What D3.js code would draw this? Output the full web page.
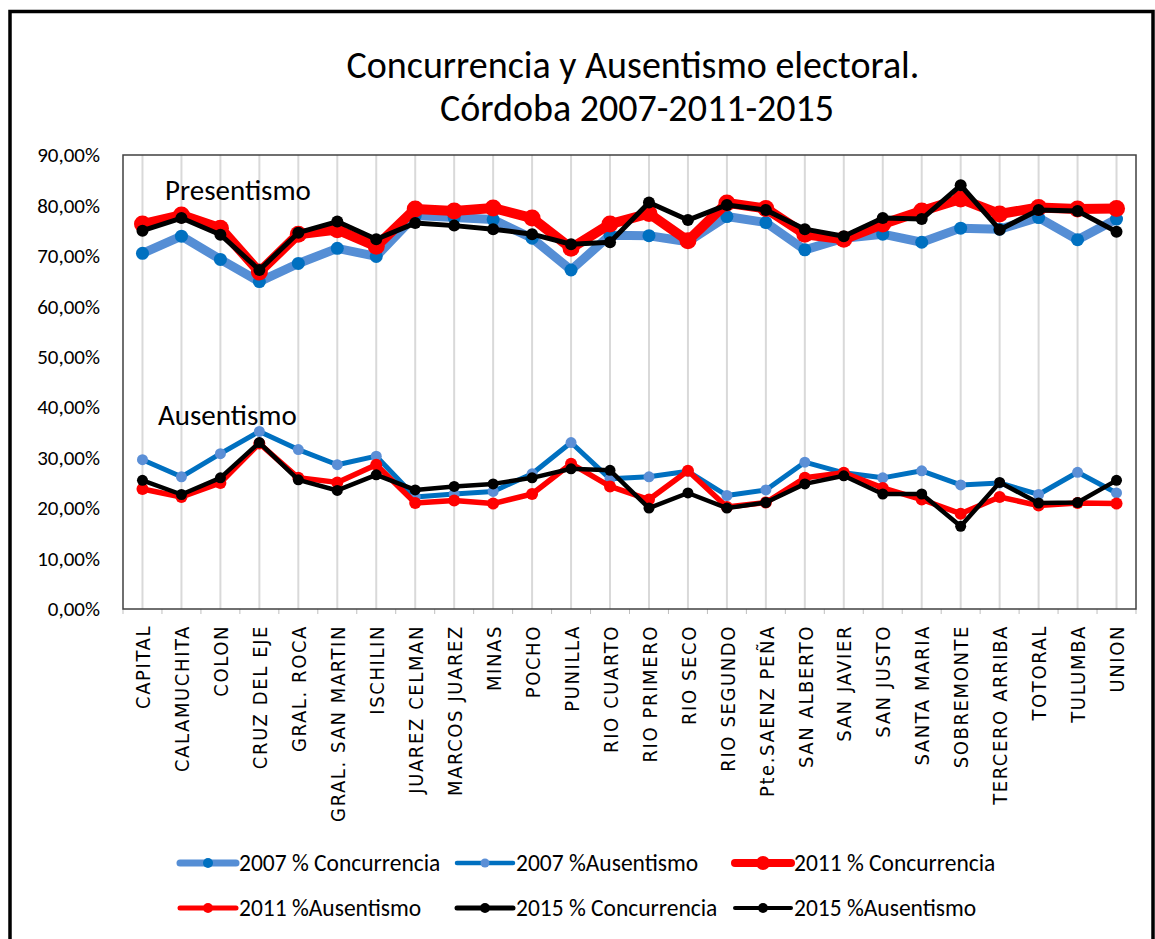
<!DOCTYPE html>
<html>
<head>
<meta charset="utf-8">
<script src="https://cdn.jsdelivr.net/npm/d3@7"></script>
<style>
  body { margin: 0; background: #fff; }
  svg { display: block; }
  .calib { font-family: Calibri, Carlito, Lato, sans-serif; }
</style>
</head>
<body>
<div id="app"></div>
<script>
// departamentos (eje x)
const categories = ["CAPITAL", "CALAMUCHITA", "COLON", "CRUZ DEL EJE", "GRAL. ROCA",
  "GRAL. SAN MARTIN", "ISCHILIN", "JUAREZ CELMAN", "MARCOS JUAREZ", "MINAS", "POCHO",
  "PUNILLA", "RIO CUARTO", "RIO PRIMERO", "RIO SECO", "RIO SEGUNDO", "Pte.SAENZ PEÑA",
  "SAN ALBERTO", "SAN JAVIER", "SAN JUSTO", "SANTA MARIA", "SOBREMONTE",
  "TERCERO ARRIBA", "TOTORAL", "TULUMBA", "UNION"];

// valores en %
const conc2007 = [70.5, 73.9, 69.3, 64.9, 68.5, 71.5, 69.9, 78.0, 77.6, 77.2, 73.5, 67.2, 74.1,
  74.0, 72.8, 77.8, 76.6, 71.2, 73.5, 74.3, 72.7, 75.5, 75.3, 77.6, 73.2, 77.3];
const aus2007 = [29.6, 26.2, 30.8, 35.2, 31.6, 28.6, 30.3, 22.2, 22.8, 23.3, 26.8, 33.0, 25.8,
  26.2, 27.3, 22.5, 23.6, 29.1, 27.0, 26.0, 27.4, 24.6, 25.0, 22.7, 27.1, 23.0];
const conc2011 = [76.3, 78.1, 75.5, 66.8, 74.3, 75.2, 71.9, 79.3, 78.9, 79.5, 77.5, 71.5, 76.3,
  78.4, 73.0, 80.5, 79.4, 74.3, 73.3, 76.3, 78.9, 81.3, 78.3, 79.6, 79.3, 79.4];
const aus2011 = [23.8, 22.2, 25.0, 32.8, 26.0, 25.1, 28.6, 21.0, 21.5, 20.9, 22.8, 28.8, 24.3,
  21.7, 27.4, 20.2, 21.1, 26.0, 27.0, 24.0, 21.7, 18.9, 22.2, 20.5, 21.0, 20.9];
const conc2015 = [75.0, 77.5, 74.2, 67.2, 74.6, 76.8, 73.3, 76.5, 76.0, 75.3, 74.3, 72.3, 72.7,
  80.6, 77.1, 80.1, 79.1, 75.3, 73.9, 77.5, 77.3, 84.0, 75.2, 79.1, 78.9, 74.8];
const aus2015 = [25.5, 22.7, 26.0, 33.0, 25.6, 23.5, 26.6, 23.6, 24.3, 24.8, 26.0, 27.8, 27.5,
  20.0, 23.0, 20.0, 21.1, 24.8, 26.4, 22.8, 22.8, 16.4, 25.1, 21.0, 21.1, 25.5];

const yTicks = [0, 10, 20, 30, 40, 50, 60, 70, 80, 90];

// series en orden de dibujo (la ultima queda arriba)
const series = [
  { name: "2007 % Concurrencia", values: conc2007, line: "#558ED5", dot: "#0070C0", lw: 9, r: 6.5, lgLw: 7, lgR: 5 },
  { name: "2007 %Ausentismo", values: aus2007, line: "#0070C0", dot: "#5B8FD6", lw: 5, r: 5.5, lgLw: 4.5, lgR: 4.5 },
  { name: "2011 % Concurrencia", values: conc2011, line: "#FF0000", dot: "#FF0000", lw: 10, r: 8.5, lgLw: 8, lgR: 7 },
  { name: "2011 %Ausentismo", values: aus2011, line: "#FF0000", dot: "#FF0000", lw: 5.5, r: 6, lgLw: 5, lgR: 5 },
  { name: "2015 % Concurrencia", values: conc2015, line: "#000000", dot: "#000000", lw: 5, r: 6, lgLw: 5, lgR: 5 },
  { name: "2015 %Ausentismo", values: aus2015, line: "#000000", dot: "#000000", lw: 4.5, r: 5.5, lgLw: 4, lgR: 5 }
];

const W = 1155, H = 939;
const plot = { left: 123, right: 1136, top: 155, bottom: 609 };

const svg = d3.select('#app').append('svg')
  .attr('width', W).attr('height', H);

// marco exterior
svg.append('rect')
  .attr('x', 10).attr('y', 11.5)
  .attr('width', 1143).attr('height', 940)
  .attr('fill', 'none').attr('stroke', '#000').attr('stroke-width', 3.5);

const x = d3.scalePoint()
  .domain(categories)
  .range([plot.left, plot.right])
  .padding(0.5);
const step = x.step();

const y = d3.scaleLinear()
  .domain([0, 90])
  .range([plot.bottom, plot.top]);

// titulo
const title = svg.append('text').attr('class', 'calib')
  .attr('text-anchor', 'middle')
  .attr('font-size', 38).attr('fill', '#000');
title.append('tspan').attr('x', 633).attr('y', 78).text('Concurrencia y Ausentismo electoral.');
title.append('tspan').attr('x', 637).attr('y', 121).text('Córdoba 2007-2011-2015');

// grilla vertical
svg.append('g')
  .selectAll('line')
  .data(categories)
  .enter().append('line')
  .attr('x1', d => x(d)).attr('x2', d => x(d))
  .attr('y1', plot.top).attr('y2', plot.bottom)
  .attr('stroke', '#D9D9D9').attr('stroke-width', 2);

// eje y (solo etiquetas)
const yAxis = svg.append('g')
  .attr('transform', `translate(${plot.left},0)`)
  .call(d3.axisLeft(y).tickValues(yTicks).tickSize(0).tickPadding(23)
    .tickFormat(d => d3.format('.2f')(d).replace('.', ',') + '%'));
yAxis.select('.domain').remove();
yAxis.selectAll('text')
  .attr('class', 'calib')
  .attr('font-size', 21)
  .attr('fill', '#000');

// eje x
const xAxis = svg.append('g')
  .attr('transform', `translate(0,${plot.bottom})`)
  .call(d3.axisBottom(x).tickSize(0).tickPadding(0));
xAxis.select('.domain').remove();
xAxis.selectAll('text')
  .attr('transform', 'rotate(-90)')
  .attr('text-anchor', 'end')
  .attr('x', -16)
  .attr('y', 0)
  .attr('dy', '0.36em')
  .attr('font-family', 'DejaVu Sans Condensed, DejaVu Sans, sans-serif')
  .attr('font-stretch', 'condensed')
  .attr('font-size', 20)
  .attr('letter-spacing', 1.6)
  .attr('fill', '#000');

// marcas entre categorias
svg.append('g')
  .selectAll('line')
  .data(d3.range(categories.length + 1))
  .enter().append('line')
  .attr('x1', i => plot.left + i * step).attr('x2', i => plot.left + i * step)
  .attr('y1', plot.bottom).attr('y2', plot.bottom + 5)
  .attr('stroke', '#BFBFBF').attr('stroke-width', 1);

// borde del area de graficos
svg.append('rect')
  .attr('x', plot.left).attr('y', plot.top)
  .attr('width', plot.right - plot.left).attr('height', plot.bottom - plot.top)
  .attr('fill', 'none').attr('stroke', '#404040').attr('stroke-width', 1.5);

// lineas
const line = d3.line()
  .x((d, i) => x(categories[i]))
  .y(d => y(d));

series.forEach(s => {
  const g = svg.append('g');
  g.append('path')
    .datum(s.values)
    .attr('d', line)
    .attr('fill', 'none')
    .attr('stroke', s.line)
    .attr('stroke-width', s.lw)
    .attr('stroke-linejoin', 'round');
  g.selectAll('circle')
    .data(s.values)
    .enter().append('circle')
    .attr('cx', (d, i) => x(categories[i]))
    .attr('cy', d => y(d))
    .attr('r', s.r)
    .attr('fill', s.dot);
});

// rotulos dentro del grafico
svg.append('text').attr('class', 'calib')
  .attr('x', 165).attr('y', 200)
  .attr('font-size', 29).text('Presentismo');
svg.append('text').attr('class', 'calib')
  .attr('x', 158).attr('y', 425)
  .attr('font-size', 29).text('Ausentismo');

// leyenda
const legendPos = [
  { x: 180, y: 863 }, { x: 457, y: 863 }, { x: 735, y: 863 },
  { x: 180, y: 908 }, { x: 457, y: 908 }, { x: 735, y: 908 }
];
const legend = svg.append('g');
series.forEach((s, i) => {
  const p = legendPos[i];
  const g = legend.append('g').attr('transform', `translate(${p.x},${p.y})`);
  g.append('line')
    .attr('x1', 0).attr('x2', 56)
    .attr('stroke', s.line).attr('stroke-width', s.lgLw)
    .attr('stroke-linecap', 'round');
  g.append('circle').attr('cx', 28).attr('r', s.lgR).attr('fill', s.dot);
  g.append('text').attr('class', 'calib')
    .attr('x', 59).attr('dy', '0.35em')
    .attr('font-size', 23.5).text(s.name);
});
</script>
</body>
</html>
